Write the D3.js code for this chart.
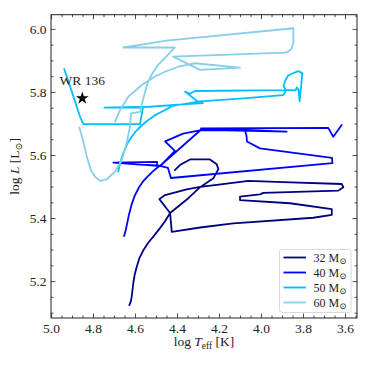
<!DOCTYPE html>
<html>
<head>
<meta charset="utf-8">
<script src="https://cdn.jsdelivr.net/npm/d3@7"></script>
<style>
  body { margin: 0; background: #fff; }
  svg text { font-family: "Liberation Serif", "DejaVu Serif", serif; fill: #222; }
</style>
</head>
<body>
<svg id="chart"></svg>
<script>
// evolutionary tracks (log Teff, log L)
const masses = [32, 40, 50, 60];

const logT32 = [4.627, 4.621, 4.616, 4.612, 4.608, 4.602, 4.592, 4.579, 4.560, 4.538,
  4.513, 4.481, 4.457, 4.433,
  4.484, 4.457, 4.354, 4.290, 4.211, 4.060, 3.895, 3.616, 3.608, 3.632, 3.989, 4.005,
  4.100, 4.100, 3.862, 3.663, 3.663, 3.751, 4.132, 4.290, 4.425, 4.433,
  4.346, 4.290, 4.227, 4.203, 4.211, 4.243, 4.338, 4.386, 4.410];
const logL32 = [5.124, 5.133, 5.149, 5.171, 5.194, 5.219, 5.245, 5.273, 5.298, 5.321,
  5.341, 5.368, 5.390, 5.416,
  5.460, 5.473, 5.491, 5.499, 5.505, 5.518, 5.514, 5.508, 5.498, 5.487, 5.480, 5.475,
  5.468, 5.457, 5.447, 5.428, 5.410, 5.401, 5.383, 5.370, 5.356, 5.416,
  5.463, 5.498, 5.526, 5.555, 5.571, 5.586, 5.586, 5.568, 5.552];

const logT40 = [4.652, 4.645, 4.638, 4.629, 4.617, 4.602, 4.583, 4.562, 4.538, 4.514,
  4.490, 4.481, 4.433, 4.410,
  4.457, 4.371, 4.286, 4.076, 4.069, 4.067, 4.005, 3.662, 3.660, 4.429, 4.443, 4.476,
  4.703, 4.495, 4.495, 4.600, 4.480, 4.286, 3.878, 4.286, 3.680, 3.656, 3.616];
const logL40 = [5.343, 5.359, 5.381, 5.410, 5.441, 5.470, 5.495, 5.516, 5.533, 5.549,
  5.562, 5.565, 5.597, 5.613,
  5.643, 5.668, 5.679, 5.678, 5.660, 5.643, 5.621, 5.591, 5.574, 5.527, 5.559, 5.565,
  5.576, 5.578, 5.567, 5.570, 5.566, 5.680, 5.674, 5.684, 5.686, 5.658, 5.695];

const logT50 = [4.680, 4.676, 4.671, 4.662, 4.650, 4.636, 4.617, 4.595, 4.571, 4.543,
  4.510, 4.471, 4.419, 4.290,
  4.100, 3.894, 3.881, 3.893, 3.883, 3.871, 3.846, 3.822, 3.803, 3.810, 3.816, 3.821,
  3.829, 3.836, 3.862, 3.886, 4.314, 4.338, 4.362, 4.306, 4.276, 4.410, 4.529, 4.746,
  4.562, 4.576, 4.846, 4.862, 4.901, 4.937];
const logL50 = [5.547, 5.559, 5.574, 5.594, 5.616, 5.637, 5.657, 5.676, 5.692, 5.708,
  5.724, 5.738, 5.756, 5.770,
  5.779, 5.790, 5.805, 5.819, 5.838, 5.852, 5.860, 5.866, 5.859, 5.813, 5.770, 5.806,
  5.814, 5.805, 5.806, 5.806, 5.803, 5.794, 5.801, 5.772, 5.765, 5.759, 5.753, 5.750,
  5.751, 5.698, 5.698, 5.722, 5.801, 5.873];

const logT60 = [4.865, 4.848, 4.830, 4.810, 4.790, 4.767, 4.735, 4.695, 4.663, 4.640,
  4.624, 4.619, 4.576, 4.562, 4.550, 4.537, 4.519, 4.490, 4.457, 4.410, 4.656, 4.449,
  3.846, 3.846, 3.855, 3.870, 3.886, 4.418, 4.290, 4.100, 4.314, 4.394, 4.457, 4.505,
  4.568, 4.632, 4.671, 4.695];
const logL60 = [5.687, 5.648, 5.595, 5.552, 5.531, 5.518, 5.523, 5.547, 5.584, 5.637,
  5.690, 5.732, 5.737, 5.775, 5.806, 5.833, 5.857, 5.886, 5.908, 5.941, 5.941, 5.963,
  6.002, 5.956, 5.937, 5.928, 5.925, 5.912, 5.870, 5.877, 5.891, 5.880, 5.864, 5.849,
  5.822, 5.785, 5.743, 5.706];

// WR 136 position
const wrLabel = "WR 136";
const wrLogT = 4.851;
const wrLogL = 5.780;

const xTicks = [5.0, 4.8, 4.6, 4.4, 4.2, 4.0, 3.8, 3.6];
const yTicks = [5.2, 5.4, 5.6, 5.8, 6.0];

const colors = ["#000080", "#0000ff", "#00bfff", "#87ceeb"];

const width = 366, height = 366;
const pLeft = 51, pRight = 357, pTop = 14.7, pBottom = 318;

const svg = d3.select('#chart')
    .attr('width', width)
    .attr('height', height);

// x axis is reversed (hot on the left)
const x = d3.scaleLinear().domain([5.0, 3.543]).range([pLeft, pRight]);
const y = d3.scaleLinear().domain([5.083, 6.045]).range([pBottom, pTop]);

svg.append('clipPath').attr('id', 'clip')
    .append('rect')
    .attr('x', pLeft).attr('y', pTop)
    .attr('width', pRight - pLeft).attr('height', pBottom - pTop);

// tracks
const tracks = [
    { m: masses[0], t: logT32, l: logL32 },
    { m: masses[1], t: logT40, l: logL40 },
    { m: masses[2], t: logT50, l: logL50 },
    { m: masses[3], t: logT60, l: logL60 }
];

const line = d3.line()
    .x(d => x(d[0]))
    .y(d => y(d[1]));

svg.append('g')
    .attr('clip-path', 'url(#clip)')
    .selectAll('path')
    .data(tracks)
    .enter()
    .append('path')
    .attr('d', d => line(d.t.map((v, i) => [v, d.l[i]])))
    .attr('fill', 'none')
    .attr('stroke', (d, i) => colors[i])
    .attr('stroke-width', 1.8)
    .attr('stroke-linejoin', 'round')
    .attr('stroke-linecap', 'round');

// WR 136 marker
svg.append('path')
    .attr('d', d3.symbol().type(d3.symbolStar).size(50)())
    .attr('transform', `translate(${x(wrLogT)},${y(wrLogL)})`)
    .attr('fill', '#000');

svg.append('text')
    .attr('x', x(wrLogT))
    .attr('y', y(wrLogL) - 13)
    .attr('text-anchor', 'middle')
    .attr('font-size', 13.5)
    .text(wrLabel);

// axes: inward ticks on all four sides
const fmt = d3.format('.1f');
const minorX = d3.range(71, 101).map(v => v / 20).filter(v => !xTicks.some(t => Math.abs(t - v) < 1e-6));
const minorY = d3.range(102, 121).map(v => v / 20).filter(v => !yTicks.some(t => Math.abs(t - v) < 1e-6));

function addAxis(axis, tr) {
    const g = svg.append('g').attr('transform', tr).call(axis);
    g.select('.domain').remove();
    g.selectAll('line').attr('stroke', '#222').attr('stroke-width', 0.8);
    return g;
}

addAxis(d3.axisBottom(x).tickValues(xTicks).tickFormat(fmt).tickSize(-4.5).tickPadding(5), `translate(0,${pBottom})`);
addAxis(d3.axisBottom(x).tickValues(minorX).tickFormat('').tickSize(-2.5), `translate(0,${pBottom})`);
addAxis(d3.axisTop(x).tickValues(xTicks).tickFormat('').tickSize(-4.5), `translate(0,${pTop})`);
addAxis(d3.axisTop(x).tickValues(minorX).tickFormat('').tickSize(-2.5), `translate(0,${pTop})`);

addAxis(d3.axisLeft(y).tickValues(yTicks).tickFormat(fmt).tickSize(-4.5).tickPadding(4.5), `translate(${pLeft},0)`);
addAxis(d3.axisLeft(y).tickValues(minorY).tickFormat('').tickSize(-2.5), `translate(${pLeft},0)`);
addAxis(d3.axisRight(y).tickValues(yTicks).tickFormat('').tickSize(-4.5), `translate(${pRight},0)`);
addAxis(d3.axisRight(y).tickValues(minorY).tickFormat('').tickSize(-2.5), `translate(${pRight},0)`);

svg.selectAll('.tick text')
    .attr('font-size', 13.5)
    .attr('font-family', '"Liberation Serif", "DejaVu Serif", serif')
    .attr('fill', '#222');

svg.append('rect')
    .attr('x', pLeft).attr('y', pTop)
    .attr('width', pRight - pLeft).attr('height', pBottom - pTop)
    .attr('fill', 'none')
    .attr('stroke', '#222')
    .attr('stroke-width', 1);

// axis titles
const xt = svg.append('text')
    .attr('x', (pLeft + pRight) / 2)
    .attr('y', 346)
    .attr('text-anchor', 'middle')
    .attr('font-size', 13.5);
xt.append('tspan').text('log ');
xt.append('tspan').attr('font-style', 'italic').text('T');
xt.append('tspan').attr('font-size', 9.5).attr('dy', 2.5).text('eff');
xt.append('tspan').attr('dy', -2.5).text(' [K]');

const yt = svg.append('text')
    .attr('transform', `translate(19,${(pTop + pBottom) / 2}) rotate(-90)`)
    .attr('text-anchor', 'middle')
    .attr('font-size', 13.5);
yt.append('tspan').text('log ');
yt.append('tspan').attr('font-style', 'italic').text('L');
yt.append('tspan').text(' [L');
yt.append('tspan').attr('font-size', 9.5).attr('dy', 2.5).text('\u2299');
yt.append('tspan').attr('dy', -2.5).text(']');

// legend
const lg = svg.append('g').attr('transform', 'translate(279.5,249.5)');
lg.append('rect')
    .attr('width', 71.5).attr('height', 63)
    .attr('rx', 2.5)
    .attr('fill', '#fff').attr('fill-opacity', 0.8)
    .attr('stroke', '#d0d0d0').attr('stroke-width', 0.8);

const items = lg.selectAll('g.item')
    .data(tracks)
    .enter()
    .append('g')
    .attr('class', 'item')
    .attr('transform', (d, i) => `translate(0,${8 + i * 15})`);

items.append('line')
    .attr('x1', 4).attr('x2', 26.5)
    .attr('stroke', (d, i) => colors[i])
    .attr('stroke-width', 1.8);

const lt = items.append('text')
    .attr('x', 34)
    .attr('dy', '0.35em')
    .attr('font-size', 12);
lt.append('tspan').text(d => d.m + ' M');
lt.append('tspan').attr('font-size', 8.5).attr('dy', 2.5).text('\u2299');
</script>
</body>
</html>
